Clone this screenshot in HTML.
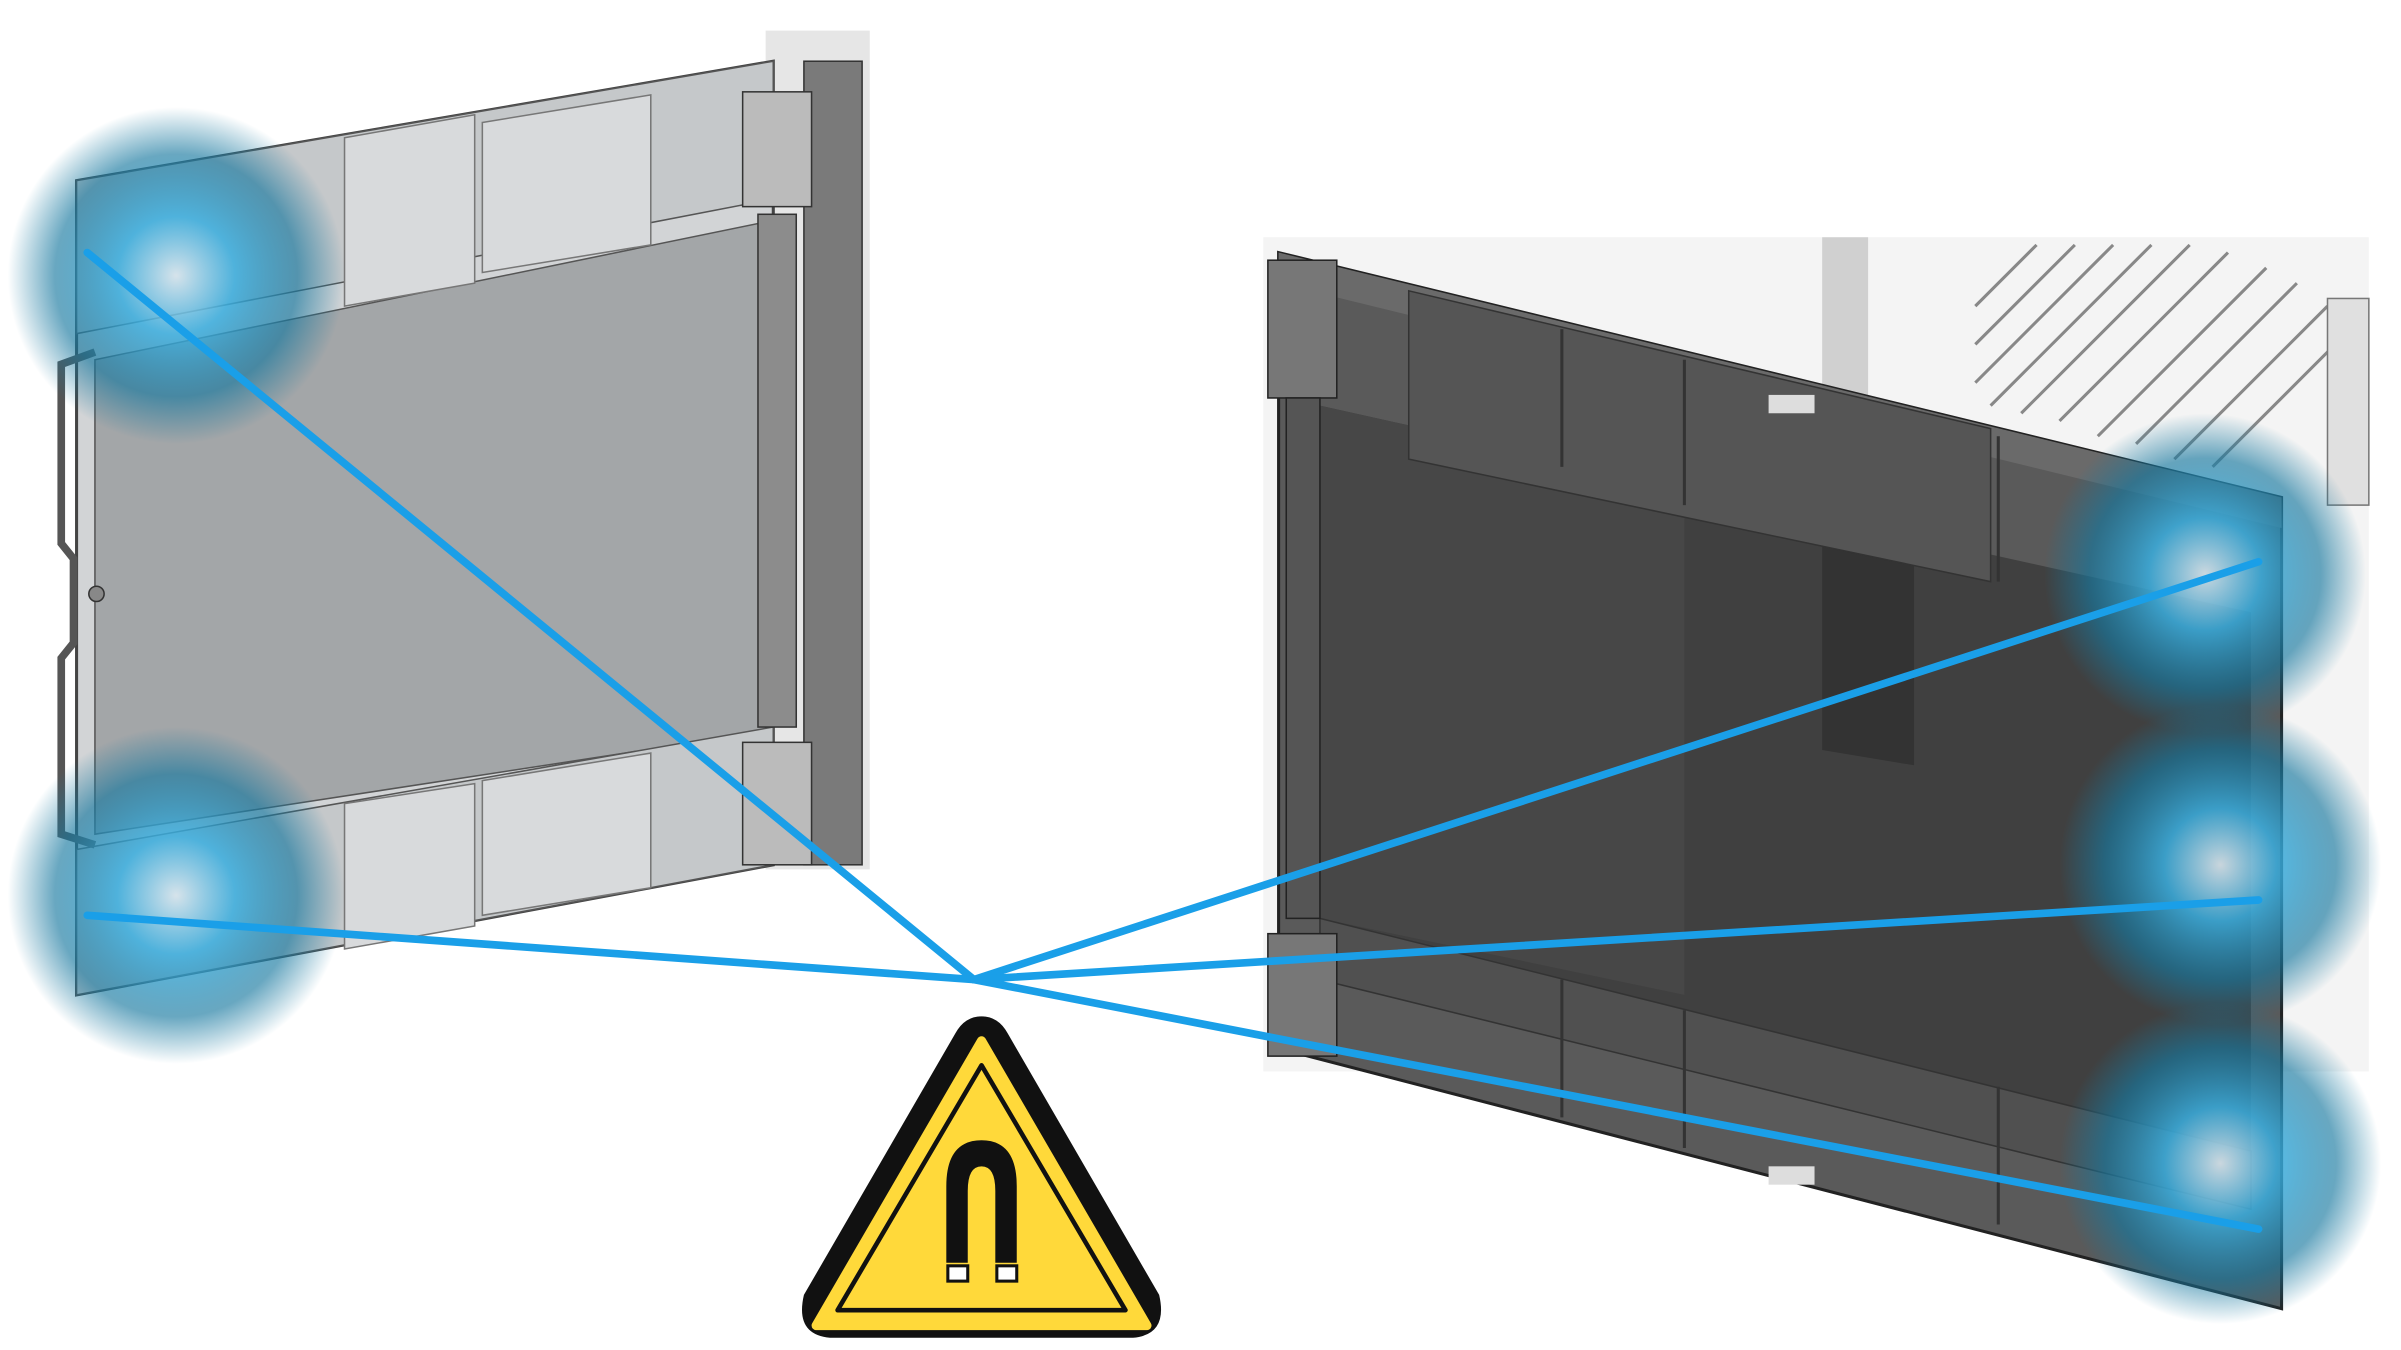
<!DOCTYPE html>
<html><head><meta charset="utf-8"><style>
html,body{margin:0;padding:0;background:#fff;}
svg{display:block;}
</style></head><body>
<svg width="2401" height="1350" viewBox="0 0 1568 882" preserveAspectRatio="none" xmlns="http://www.w3.org/2000/svg">
<defs>
<radialGradient id="glow" cx="50%" cy="50%" r="50%">
<stop offset="0" stop-color="#d8e6ee" stop-opacity="0.9"/>
<stop offset="0.35" stop-color="#3aaedf" stop-opacity="0.85"/>
<stop offset="0.72" stop-color="#17789f" stop-opacity="0.65"/>
<stop offset="1" stop-color="#17789f" stop-opacity="0"/>
</radialGradient>
</defs>
<rect width="1568" height="882" fill="#fff"/>

<!-- Right door background machinery -->
<rect x="825" y="155" width="722" height="545" fill="#f4f4f4"/>
<rect x="1190" y="155" width="30" height="330" fill="#d0d0d0"/>
<g stroke="#888" stroke-width="2">
<line x1="1290" y1="200" x2="1330" y2="160"/><line x1="1290" y1="225" x2="1355" y2="160"/>
<line x1="1290" y1="250" x2="1380" y2="160"/><line x1="1300" y1="265" x2="1405" y2="160"/>
<line x1="1320" y1="270" x2="1430" y2="160"/><line x1="1345" y1="275" x2="1455" y2="165"/>
<line x1="1370" y1="285" x2="1480" y2="175"/><line x1="1395" y1="290" x2="1500" y2="185"/>
<line x1="1420" y1="300" x2="1520" y2="200"/><line x1="1445" y1="305" x2="1540" y2="210"/>
</g>
<rect x="1520" y="195" width="27" height="135" fill="#e0e0e0" stroke="#777"/>
<!-- right door frame -->
<polygon points="835,165 1490,325 1490,855 835,685" fill="#5a5a5a" stroke="#222" stroke-width="2"/>
<polygon points="862,265 1470,400 1470,752 862,600" fill="#404040"/>
<polygon points="862,265 1100,318 1100,650 862,600" fill="#474747"/>
<polygon points="1190,340 1250,352 1250,500 1190,490" fill="#333"/>
<polygon points="835,165 1490,325 1490,345 835,185" fill="#6a6a6a"/>
<polygon points="920,190 1300,280 1300,380 920,300" fill="#555" stroke="#333"/>
<polygon points="862,600 1470,752 1470,790 862,640" fill="#505050" stroke="#333"/>
<line x1="1100" y1="235" x2="1100" y2="330" stroke="#333" stroke-width="2"/>
<line x1="1020" y1="215" x2="1020" y2="305" stroke="#333" stroke-width="2"/>
<line x1="1305" y1="285" x2="1305" y2="380" stroke="#333" stroke-width="2"/>
<line x1="1020" y1="640" x2="1020" y2="730" stroke="#333" stroke-width="2"/>
<line x1="1100" y1="660" x2="1100" y2="750" stroke="#333" stroke-width="2"/>
<line x1="1305" y1="710" x2="1305" y2="800" stroke="#333" stroke-width="2"/>
<rect x="1155" y="258" width="30" height="12" fill="#ddd"/>
<rect x="1155" y="762" width="30" height="12" fill="#ddd"/>
<rect x="828" y="170" width="45" height="90" fill="#777" stroke="#222"/>
<rect x="828" y="610" width="45" height="80" fill="#777" stroke="#222"/>
<rect x="840" y="260" width="22" height="340" fill="#555" stroke="#222"/>

<!-- Left door -->
<rect x="500" y="20" width="68" height="548" fill="#e6e6e6"/>
<rect x="525" y="40" width="38" height="525" fill="#7a7a7a" stroke="#333"/>
<polygon points="50,118 505,40 505,565 50,650" fill="#d2d4d6" stroke="#444" stroke-width="2"/>
<polygon points="62,235 500,145 500,478 62,545" fill="#a3a6a8" stroke="#555"/>
<polygon points="50,118 505,40 505,130 50,218" fill="#c5c8ca" stroke="#555"/>
<polygon points="225,90 310,75 310,185 225,200" fill="#d8dadc" stroke="#777"/>
<polygon points="315,80 425,62 425,160 315,178" fill="#d8dadc" stroke="#777"/>
<polygon points="50,555 505,475 505,565 50,650" fill="#c5c8ca" stroke="#555"/>
<polygon points="225,525 310,512 310,605 225,620" fill="#d8dadc" stroke="#777"/>
<polygon points="315,510 425,492 425,580 315,598" fill="#d8dadc" stroke="#777"/>
<rect x="495" y="140" width="25" height="335" fill="#8c8c8c" stroke="#333"/>
<rect x="485" y="60" width="45" height="75" fill="#bbb" stroke="#333"/>
<rect x="485" y="485" width="45" height="80" fill="#bbb" stroke="#333"/>
<path d="M62,230 L40,238 L40,355 L48,365 L48,420 L40,430 L40,545 L62,552" fill="none" stroke="#555" stroke-width="5"/>
<circle cx="63" cy="388" r="5" fill="#888" stroke="#333"/>

<!-- glows -->
<circle cx="115" cy="180" r="110" fill="url(#glow)"/>
<circle cx="115" cy="585" r="110" fill="url(#glow)"/>
<circle cx="1440" cy="375" r="105" fill="url(#glow)"/>
<circle cx="1450" cy="565" r="105" fill="url(#glow)"/>
<circle cx="1450" cy="760" r="105" fill="url(#glow)"/>

<!-- blue lines -->
<g stroke="#1a9fe8" stroke-width="5" stroke-linecap="round">
<line x1="57" y1="165" x2="636" y2="640"/>
<line x1="57" y1="598" x2="636" y2="640"/>
<line x1="636" y1="640" x2="1475" y2="367"/>
<line x1="636" y1="640" x2="1475" y2="588"/>
<line x1="636" y1="640" x2="1475" y2="803"/>
</g>

<!-- warning sign -->
<path d="M641,664 Q652,664 658,675 L757,846 Q763,872 740,874 L542,874 Q519,872 525,846 L624,675 Q630,664 641,664 Z" fill="#111"/>
<path d="M641,680 L749,866 L533,866 Z" fill="#ffd93a" stroke="#ffd93a" stroke-width="6" stroke-linejoin="round"/>
<path d="M641,696 L735,856 L547,856 Z" fill="none" stroke="#111" stroke-width="3" stroke-linejoin="round"/>
<path d="M618,825 L618,775 Q618,745 641,745 Q664,745 664,775 L664,825 L650,825 L650,778 Q650,762 641,762 Q632,762 632,778 L632,825 Z" fill="#111"/>
<rect x="619" y="827" width="13" height="10" fill="#fff" stroke="#111" stroke-width="2"/>
<rect x="651" y="827" width="13" height="10" fill="#fff" stroke="#111" stroke-width="2"/>
</svg>
</body></html>
